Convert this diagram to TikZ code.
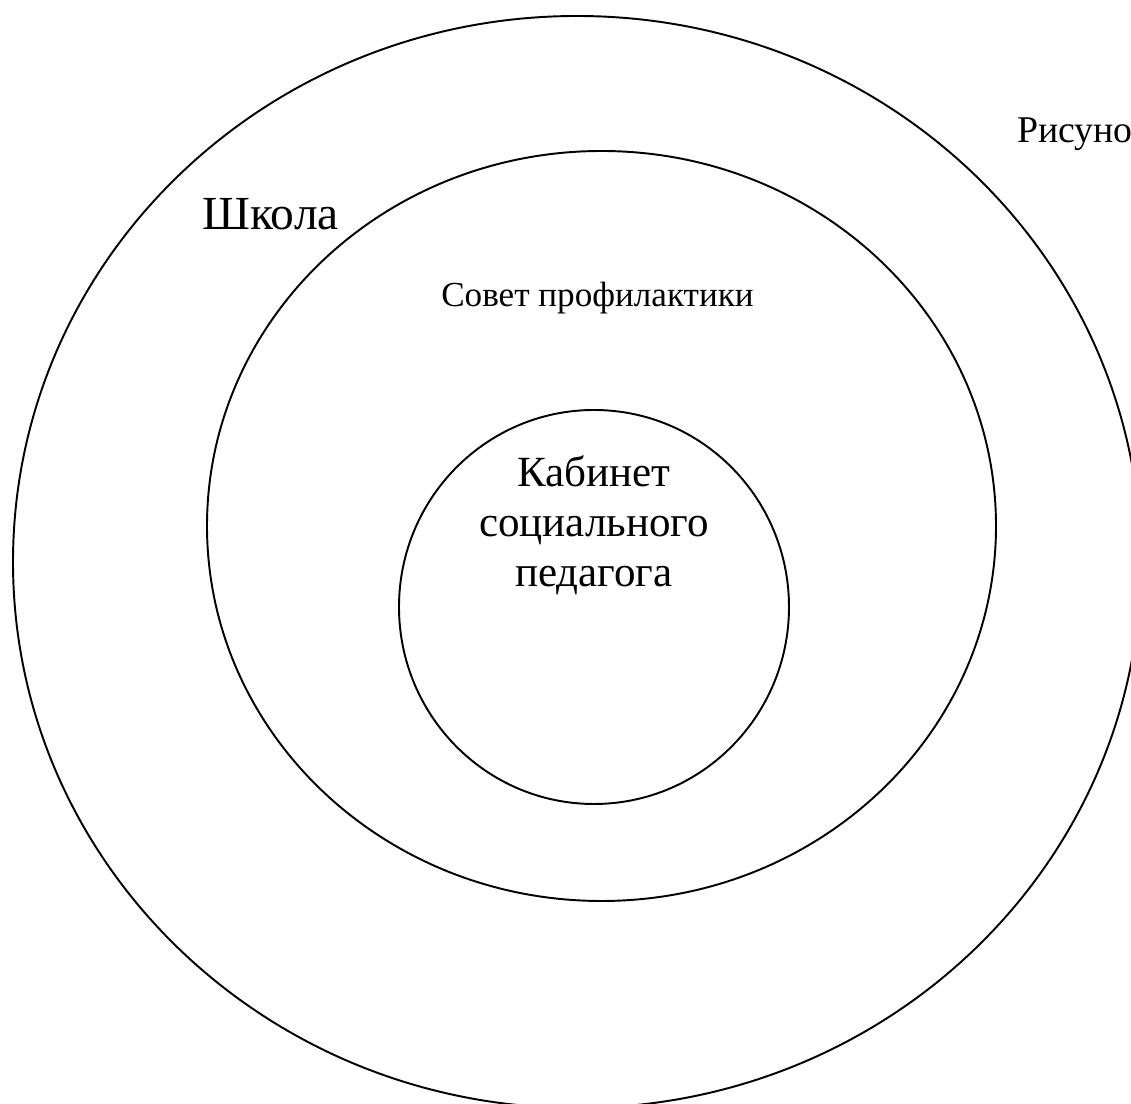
\documentclass[tikz,border=0pt]{standalone}
\usepackage{fontspec}
\setmainfont{Liberation Serif}
\usetikzlibrary{shapes.geometric}

\begin{document}
\begin{tikzpicture}[
  ring/.style={ellipse, draw=black, line width=1.1pt, inner sep=0pt},
  lbl/.style={inner sep=0pt, align=center},
]
\useasboundingbox (0,0) rectangle (22.62,22.08);
\clip (0,0) rectangle (22.62,22.08);

% ---------------- RINGS (absolute, cm) ----------------
\node[ring, minimum width=22.56cm, minimum height=21.84cm] (SCHOOL) at (11.54,10.84) {};
\node[ring, minimum width=15.78cm, minimum height=15.0cm] (COUNCIL) at (12.03,11.56) {};
\node[ring, minimum width=7.8cm, minimum height=7.88cm] (OFFICE) at (11.88,9.94) {};

% ---------------- LABELS ----------------
\node[lbl, anchor=base west, font=\fontsize{27}{32}\selectfont] (schoolLbl) at (4.04,17.48) {Школа};
\node[lbl, anchor=base, font=\fontsize{20}{24}\selectfont] (councilLbl) at (11.95,15.94) {Совет профилактики};
% base = baseline of the last line here
\node[lbl, anchor=base, font=\fontsize{24.5}{28.5}\selectfont] (officeLbl) at (11.88,10.34)
  {Кабинет\\социального\\педагога};
\node[lbl, anchor=base west, font=\fontsize{21.5}{25}\selectfont] (figLbl) at (20.34,19.22) {Рисуно};
\end{tikzpicture}
\end{document}
